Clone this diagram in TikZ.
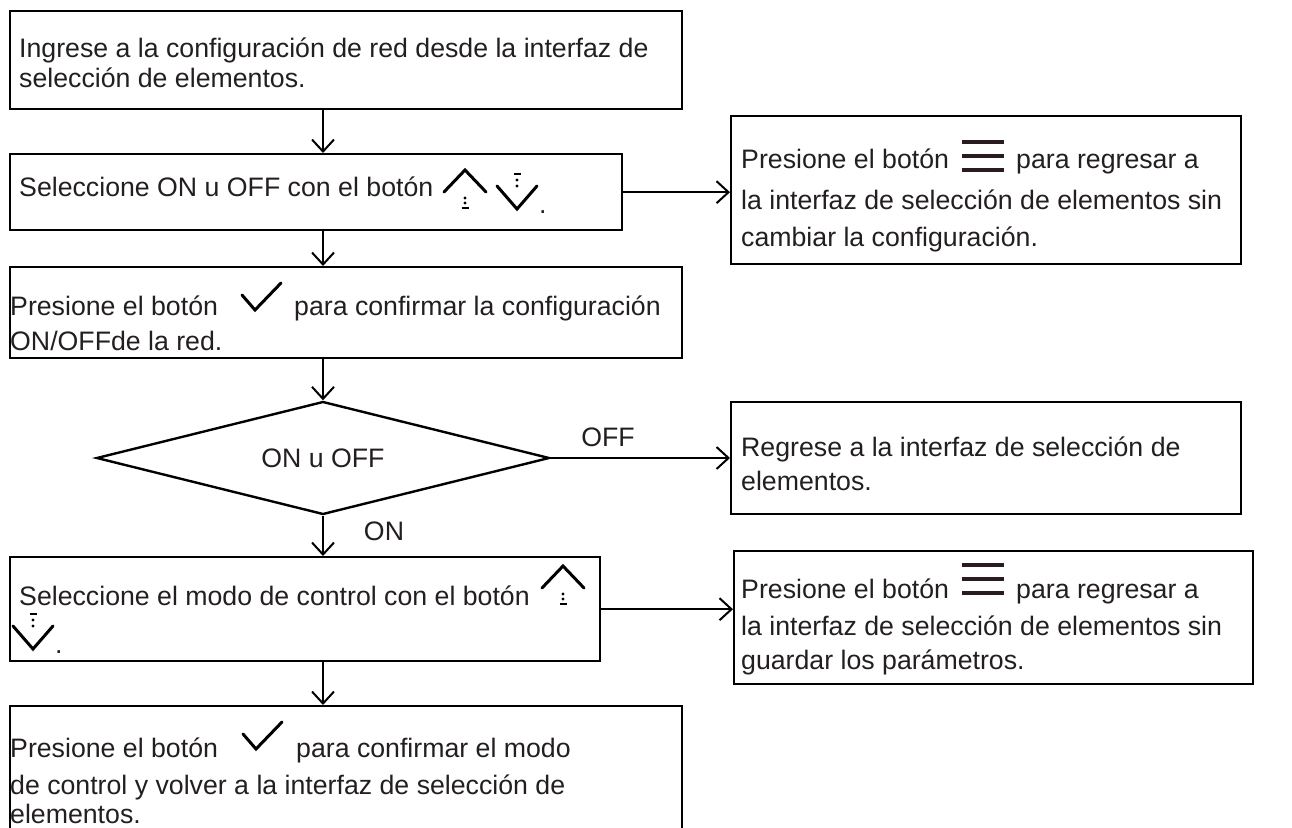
\documentclass[tikz,border=0pt]{standalone}
\usepackage{fontspec}
\setmainfont{Liberation Sans}
\usetikzlibrary{arrows.meta,shapes.geometric}
\definecolor{txtc}{HTML}{231F20}
\definecolor{iconc}{HTML}{2B1A1F}
\begin{document}
\begin{tikzpicture}[x=1pt,y=-1pt,
  box/.style={draw=black,line width=2.4pt,rectangle,inner sep=0pt,anchor=north west},
  tx/.style={anchor=base west,inner sep=0pt,text=txtc,font=\fontsize{26.7}{30}\selectfont},
  lbl/.style={inner sep=0pt,text=txtc,font=\fontsize{26.7}{30}\selectfont},
  arr/.style={draw=black,line width=2pt,-{Straight Barb[length=12pt,width=22pt,line width=2pt]}},
  ic/.style={draw=black,line width=3pt,line cap=round,line join=miter},
  upic/.pic={\draw[ic] (-21,22) -- (0,0) -- (21,22);
    \fill[black] (0,28) circle (1.6); \fill[black] (0,33) circle (1.6);
    \draw[black,line width=2pt] (-3.5,38) -- (3.5,38);},
  downic/.pic={\draw[ic] (-20,0) -- (0,23) -- (20,0);
    \fill[black] (0,-6) circle (1.6); \fill[black] (0,0) circle (1.6);
    \draw[black,line width=2pt] (-3.5,-12) -- (3.5,-12);},
  chkic/.pic={\draw[ic] (-13,-15) -- (0,0) -- (26,-27);},
  menuic/.pic={\foreach \k in {0,14,28} \draw[iconc,line width=3.5pt] (0,\k) -- (42,\k);}
]
\useasboundingbox (0,0) rectangle (1292,827);
\clip (0,0) rectangle (1292,827);

% boxes
\node[box,minimum width=672pt,minimum height=98pt] (b1) at (9,10) {};
\node[box,minimum width=612pt,minimum height=76pt] (b2) at (9,153) {};
\node[box,minimum width=510pt,minimum height=148pt] (r1) at (730,115) {};
\node[box,minimum width=672pt,minimum height=91pt] (b3) at (9,266) {};
\node[draw=black,line width=2.4pt,diamond,inner sep=0pt,minimum width=453pt,minimum height=113pt] (d) at (323,458) {};
\node[box,minimum width=510pt,minimum height=112pt] (r2) at (730,401) {};
\node[box,minimum width=590pt,minimum height=104pt] (b5) at (9,556) {};
\node[box,minimum width=519pt,minimum height=133pt] (r3) at (733,550) {};
\node[box,minimum width=672pt,minimum height=160pt] (b6) at (9,705) {};

% connectors
\draw[arr] (b1.south -| d.north) -- (b2.north -| d.north);
\draw[arr] (b2.south -| d.north) -- (b3.north -| d.north);
\draw[arr] (b2.east) -- (b2.east -| r1.west);
\draw[arr] (b3.south -| d.north) -- (d.north);
\draw[arr] (d.east) -- (d.east -| r2.west);
\draw[arr] (d.south) -- (b5.north -| d.south);
\draw[arr] (b5.east) -- (b5.east -| r3.west);
\draw[arr] (b5.south -| d.south) -- (b6.north -| d.south);

% labels
\node[lbl] (loff) at (608,437) {OFF};
\node[lbl] (lon) at (384,531) {ON};
\node[lbl] (ldec) at (d.center) {ON u OFF};

% box 1
\node[tx] (t1a) at (19,57) {Ingrese a la configuración de red desde la interfaz de};
\node[tx] (t1b) at (19,87) {selección de elementos.};

% box 2
\node[tx] (t2a) at (19,196) {Seleccione ON u OFF con el botón};
\pic at (465,170) {upic};
\pic at (517,186) {downic};
\node[tx] (t2b) at (539,213) {.};

% right box 1
\node[tx] (tr1a) at (741,168) {Presione el botón};
\pic at (962,142) {menuic};
\node[tx] (tr1b) at (1016,168) {para regresar a};
\node[tx] (tr1c) at (741,209) {la interfaz de selección de elementos sin};
\node[tx] (tr1d) at (741,246) {cambiar la configuración.};

% box 3
\node[tx] (t3a) at (10,315) {Presione el botón};
\pic at (255,310) {chkic};
\node[tx] (t3b) at (294,315) {para confirmar la configuración};
\node[tx] (t3c) at (10,350) {ON/OFFde la red.};

% right box 2
\node[tx] (tr2a) at (741,456) {Regrese a la interfaz de selección de};
\node[tx] (tr2b) at (741,490) {elementos.};

% box 5
\node[tx] (t5a) at (19,605) {Seleccione el modo de control con el botón};
\pic at (563,566) {upic};
\pic at (33,626) {downic};
\node[tx] (t5b) at (55,653) {.};

% right box 3
\node[tx] (tr3a) at (741,598) {Presione el botón};
\pic at (962,565) {menuic};
\node[tx] (tr3b) at (1016,598) {para regresar a};
\node[tx] (tr3c) at (741,635) {la interfaz de selección de elementos sin};
\node[tx] (tr3d) at (741,669) {guardar los parámetros.};

% box 6
\node[tx] (t6a) at (10,757) {Presione el botón};
\pic at (256,749) {chkic};
\node[tx] (t6b) at (296,757) {para confirmar el modo};
\node[tx] (t6c) at (10,794) {de control y volver a la interfaz de selección de};
\node[tx] (t6d) at (10,823) {elementos.};
\end{tikzpicture}
\end{document}
